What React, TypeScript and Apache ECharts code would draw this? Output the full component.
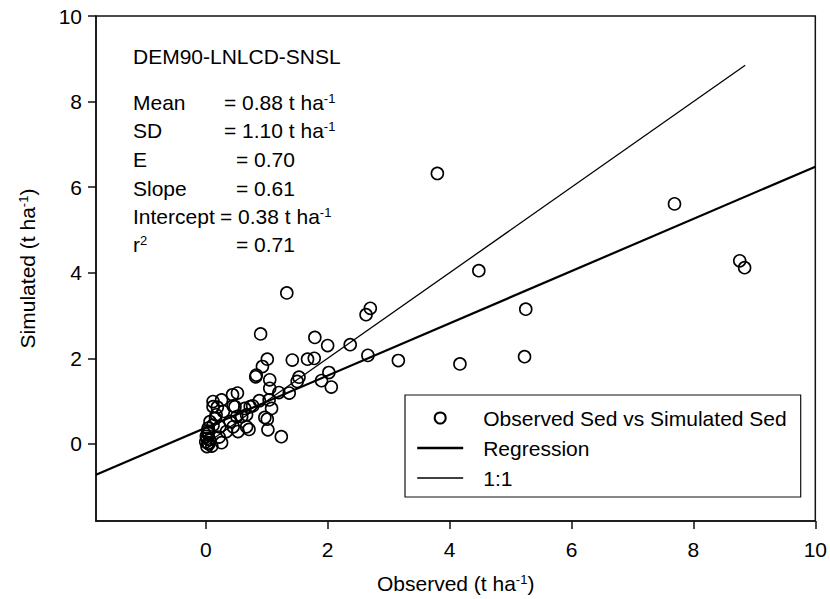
import React, { useEffect, useRef } from "react";
import * as echarts from "echarts";

const observed = [
  3.8, 7.69, 8.76, 8.84, 4.48, 5.25, 5.23, 4.17, 3.16, 2.7, 2.63, 1.33, 2.66, 2.37, 2.0, 1.79, 0.9,
  1.01, 1.42, 1.67, 1.78, 0.93, 0.83, 0.82, 1.05, 1.53, 1.5, 2.02, 1.9, 2.06, 1.05, 1.2, 1.37, 0.44,
  0.52, 0.26, 0.12, 1.04, 0.77, 0.88, 1.08, 0.45, 0.64, 0.19, 0.29, 0.97, 1.01, 0.51, 0.67, 0.16,
  0.07, 0.4, 0.67, 0.71, 1.02, 0.23, 0.04, 0.04, 1.24, 0.02, 0.26, 0.04, 0.02, 0.1, 0.12, 0.17,
  0.12, 0.34, 0.45, 0.22, 0.48, 0.59, 0.73, 0.53, 0.0, 0.01, 0.05, 0.03, 0.06,
];
const simulated = [
  6.32, 5.61, 4.28, 4.12, 4.05, 3.15, 2.04, 1.87, 1.95, 3.17, 3.02, 3.53, 2.07, 2.32, 2.3, 2.49, 2.57,
  1.98, 1.96, 1.98, 2.0, 1.81, 1.61, 1.57, 1.5, 1.56, 1.46, 1.67, 1.48, 1.33, 1.3, 1.2, 1.19, 1.15,
  1.19, 1.03, 0.99, 1.03, 0.89, 1.01, 0.83, 0.89, 0.83, 0.86, 0.76, 0.62, 0.58, 0.64, 0.68, 0.6,
  0.52, 0.52, 0.4, 0.34, 0.33, 0.4, 0.37, 0.25, 0.17, 0.13, 0.03, 0.02, -0.06, -0.05, 0.44, 0.68,
  0.87, 0.29, 0.4, 0.16, 0.87, 0.64, 0.87, 0.29, 0.05, 0.18, 0.0, 0.3, 0.1,
];
const regressionX = [-1.8, 10];
const regressionY = [-0.72, 6.48];
const oneToOneX = [0, 8.85];
const oneToOneY = [0, 8.85];
const tickValues = [0, 2, 4, 6, 8, 10];
const seriesNames = ["Observed Sed vs Simulated Sed", "Regression", "1:1"];
const statLabels = ["Mean", "SD", "E", "Slope", "Intercept", "r{sup|2}"];
const statValues = [
  "= 0.88 t ha{sup|-1}",
  "= 1.10 t ha{sup|-1}",
  "= 0.70",
  "= 0.61",
  "= 0.38 t ha{sup|-1}",
  "= 0.71",
];
const statValueX = [224, 224, 236, 236, 220, 236];
const panelTitle = "DEM90-LNLCD-SNSL";

const FONT = '"Liberation Sans", Arial, Helvetica, sans-serif';

export default function App() {
  const ref = useRef<HTMLDivElement>(null);
  useEffect(() => {
    if (!ref.current) return;
    const chart = echarts.init(ref.current, undefined, { renderer: "svg" });
    const rich = {
      sup: { fontSize: 13, fontFamily: FONT, verticalAlign: "top", lineHeight: 12, fill: "#000", color: "#000" },
    };
    const rowY = [102, 130, 159, 188, 216, 244];
    const graphics: any[] = [
      {
        type: "text",
        style: { x: 133, y: 56, text: panelTitle, fontSize: 21, fontFamily: FONT, fill: "#000", verticalAlign: "middle" },
      },
    ];
    statLabels.forEach((lab, i) => {
      graphics.push({
        type: "text",
        style: { x: 133, y: rowY[i], text: lab, fontSize: 21, fontFamily: FONT, fill: "#000", verticalAlign: "middle", rich },
      });
      graphics.push({
        type: "text",
        style: { x: statValueX[i], y: rowY[i], text: statValues[i], fontSize: 21, fontFamily: FONT, fill: "#000", verticalAlign: "middle", rich },
      });
    });
    const axisCommon = {
      type: "value" as const,
      min: -1.8,
      max: 10,
      axisLine: { show: true, onZero: false, lineStyle: { color: "#111", width: 1.5 } },
      axisTick: { show: true, inside: false, length: 8, customValues: tickValues, lineStyle: { color: "#111", width: 1.5 } },
      axisLabel: { customValues: tickValues, fontSize: 21, fontFamily: FONT, color: "#000" },
      splitLine: { show: false },
      nameLocation: "middle" as const,
      nameTextStyle: {
        fontSize: 21,
        fontFamily: FONT,
        color: "#000",
        rich: { sup: { fontSize: 13, fontFamily: FONT, color: "#000", verticalAlign: "top", lineHeight: 12 } },
      },
    };
    chart.setOption({
      animation: false,
      backgroundColor: "#fff",
      textStyle: { fontFamily: FONT },
      grid: { left: 96, top: 16, right: 13, bottom: 78, show: true, borderColor: "#111", borderWidth: 1.5 },
      xAxis: { ...axisCommon, name: "Observed (t ha{sup|-1})", nameGap: 52, axisLabel: { ...axisCommon.axisLabel, margin: 18 } },
      yAxis: { ...axisCommon, name: "Simulated (t ha{sup|-1})", nameGap: 58, axisLabel: { ...axisCommon.axisLabel, margin: 14 } },
      legend: {
        orient: "vertical",
        left: 405,
        top: 395,
        padding: [8, 14, 4, 11],
        itemGap: 0,
        itemWidth: 46,
        itemHeight: 11,
        borderColor: "#111",
        borderWidth: 1.2,
        backgroundColor: "#fff",
        textStyle: { fontSize: 21, fontFamily: FONT, color: "#000", lineHeight: 30, padding: [0, 0, 0, 15] },
        data: [
          { name: seriesNames[0] },
          { name: seriesNames[1], itemStyle: { opacity: 0 }, lineStyle: { color: "#000", width: 2.4 } },
          { name: seriesNames[2], itemStyle: { opacity: 0 }, lineStyle: { color: "#000", width: 1.3 } },
        ],
      },
      series: [
        {
          name: seriesNames[2],
          type: "line",
          data: oneToOneX.map((x, i) => [x, oneToOneY[i]]),
          symbol: "none",
          itemStyle: { color: "#000" },
          lineStyle: { color: "#000", width: 1.3 },
          z: 1,
        },
        {
          name: seriesNames[1],
          type: "line",
          data: regressionX.map((x, i) => [x, regressionY[i]]),
          symbol: "none",
          itemStyle: { color: "#000" },
          lineStyle: { color: "#000", width: 2.2 },
          z: 1,
        },
        {
          name: seriesNames[0],
          type: "scatter",
          data: observed.map((x, i) => [x, simulated[i]]),
          symbol: "circle",
          symbolSize: 12,
          itemStyle: { color: "rgba(255,255,255,0)", borderColor: "#000", borderWidth: 1.6, opacity: 1 },
          z: 3,
        },
      ],
      graphic: graphics,
    });
    return () => chart.dispose();
  }, []);
  return <div ref={ref} style={{ position: "absolute", left: 0, top: 0, width: 830, height: 599 }} />;
}
